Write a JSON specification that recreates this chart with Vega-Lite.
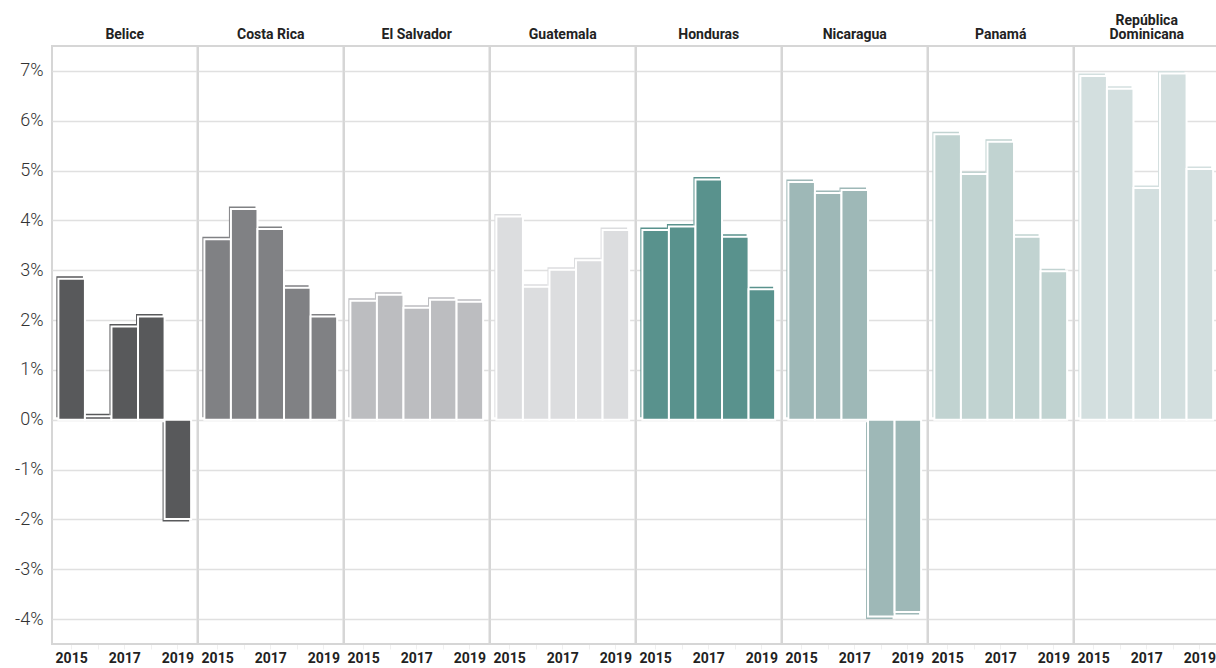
{
  "$schema": "https://vega.github.io/schema/vega-lite/v6.json",
  "background": "white",
  "padding": {"left": 14, "top": 14, "right": 0, "bottom": 0},
  "bounds": "flush",
  "data": {"values": [
    {"pais": "Belice", "anio": 2015, "valor": 2.83},
    {"pais": "Belice", "anio": 2016, "valor": 0.07},
    {"pais": "Belice", "anio": 2017, "valor": 1.87},
    {"pais": "Belice", "anio": 2018, "valor": 2.07},
    {"pais": "Belice", "anio": 2019, "valor": -1.99},
    {"pais": "Costa Rica", "anio": 2015, "valor": 3.62},
    {"pais": "Costa Rica", "anio": 2016, "valor": 4.23},
    {"pais": "Costa Rica", "anio": 2017, "valor": 3.83},
    {"pais": "Costa Rica", "anio": 2018, "valor": 2.65},
    {"pais": "Costa Rica", "anio": 2019, "valor": 2.07},
    {"pais": "El Salvador", "anio": 2015, "valor": 2.39},
    {"pais": "El Salvador", "anio": 2016, "valor": 2.51},
    {"pais": "El Salvador", "anio": 2017, "valor": 2.25},
    {"pais": "El Salvador", "anio": 2018, "valor": 2.41},
    {"pais": "El Salvador", "anio": 2019, "valor": 2.37},
    {"pais": "Guatemala", "anio": 2015, "valor": 4.08},
    {"pais": "Guatemala", "anio": 2016, "valor": 2.67},
    {"pais": "Guatemala", "anio": 2017, "valor": 3.01},
    {"pais": "Guatemala", "anio": 2018, "valor": 3.2},
    {"pais": "Guatemala", "anio": 2019, "valor": 3.81},
    {"pais": "Honduras", "anio": 2015, "valor": 3.81},
    {"pais": "Honduras", "anio": 2016, "valor": 3.88},
    {"pais": "Honduras", "anio": 2017, "valor": 4.82},
    {"pais": "Honduras", "anio": 2018, "valor": 3.67},
    {"pais": "Honduras", "anio": 2019, "valor": 2.62},
    {"pais": "Nicaragua", "anio": 2015, "valor": 4.77},
    {"pais": "Nicaragua", "anio": 2016, "valor": 4.55},
    {"pais": "Nicaragua", "anio": 2017, "valor": 4.61},
    {"pais": "Nicaragua", "anio": 2018, "valor": -3.95},
    {"pais": "Nicaragua", "anio": 2019, "valor": -3.86},
    {"pais": "Panamá", "anio": 2015, "valor": 5.73},
    {"pais": "Panamá", "anio": 2016, "valor": 4.93},
    {"pais": "Panamá", "anio": 2017, "valor": 5.58},
    {"pais": "Panamá", "anio": 2018, "valor": 3.67},
    {"pais": "Panamá", "anio": 2019, "valor": 2.98},
    {"pais": "República Dominicana", "anio": 2015, "valor": 6.9},
    {"pais": "República Dominicana", "anio": 2016, "valor": 6.64},
    {"pais": "República Dominicana", "anio": 2017, "valor": 4.65},
    {"pais": "República Dominicana", "anio": 2018, "valor": 6.95},
    {"pais": "República Dominicana", "anio": 2019, "valor": 5.03}
  ]},
  "facet": {
    "column": {
      "field": "pais",
      "type": "nominal",
      "sort": ["Belice", "Costa Rica", "El Salvador", "Guatemala", "Honduras", "Nicaragua", "Panamá", "República Dominicana"],
      "title": null,
      "header": {
        "labelFont": "Roboto",
        "labelFontSize": 14,
        "labelFontWeight": "bold",
        "labelColor": "#222222",
        "labelPadding": 4,
        "labelLineHeight": 14,
        "labelBaseline": "top",
        "labelExpr": "datum.value == 'República Dominicana' ? ['República', 'Dominicana'] : ['', datum.value]"
      }
    }
  },
  "spacing": 0,
  "spec": {
    "width": 145.5,
    "height": 598,
    "encoding": {
      "x": {
        "field": "anio",
        "type": "ordinal",
        "scale": {"paddingInner": 0, "paddingOuter": 0.24},
        "axis": {
          "title": null,
          "labelAngle": 0,
          "labelExpr": "datum.value % 2 == 1 ? datum.label : ''",
          "labelFont": "Roboto",
          "labelFontSize": 14,
          "labelFontWeight": "bold",
          "labelColor": "#222222",
          "labelPadding": 2,
          "tickColor": "#f0f0f0",
          "tickSize": 5,
          "domain": false,
          "grid": false
        }
      },
      "y": {
        "field": "valor",
        "type": "quantitative",
        "scale": {"domain": [-4.5, 7.5], "nice": false, "zero": true},
        "axis": {
          "title": null,
          "values": [-4, -3, -2, -1, 0, 1, 2, 3, 4, 5, 6, 7],
          "labelExpr": "datum.value + '%'",
          "labelFont": "Roboto",
          "labelFontSize": 18,
          "labelFontWeight": 300,
          "labelColor": "#333333",
          "labelPadding": 9,
          "ticks": false,
          "domain": false,
          "grid": true,
          "gridColor": "#e0e0e0",
          "gridWidth": 1.5
        }
      },
      "color": {
        "field": "pais",
        "type": "nominal",
        "legend": null,
        "scale": {
          "domain": ["Belice", "Costa Rica", "El Salvador", "Guatemala", "Honduras", "Nicaragua", "Panamá", "República Dominicana"],
          "range": ["#58595b", "#808184", "#bcbdc0", "#dcdddf", "#59928d", "#9eb8b7", "#c1d3d1", "#d3dfdf"]
        }
      }
    },
    "layer": [
      {"mark": {"type": "bar", "xOffset": -2, "yOffset": {"expr": "datum.valor < 0 ? 2.5 : -2.5"}}},
      {"mark": {"type": "bar", "stroke": "white", "strokeWidth": 2}}
    ]
  },
  "config": {
    "view": {"stroke": "#d6d6d6", "strokeWidth": 2}
  }
}
